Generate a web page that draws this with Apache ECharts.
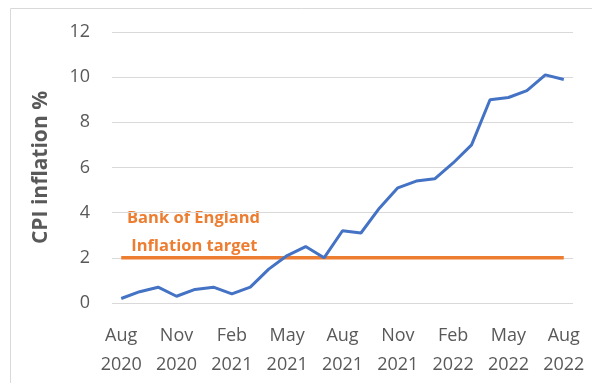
<!DOCTYPE html>
<html>
<head>
<meta charset="utf-8">
<script src="https://cdn.jsdelivr.net/npm/echarts@6/dist/echarts.min.js"></script>
<style>
  html, body { margin: 0; padding: 0; background: #fff; }
  #chart { width: 592px; height: 383px; }
</style>
</head>
<body>
<div id="chart"></div>
<script>
// monthly UK CPI, Aug 2020 - Aug 2022
const months = [
  "Aug\n2020", "Sep 2020", "Oct 2020", "Nov\n2020", "Dec 2020", "Jan 2021",
  "Feb\n2021", "Mar 2021", "Apr 2021", "May\n2021", "Jun 2021", "Jul 2021",
  "Aug\n2021", "Sep 2021", "Oct 2021", "Nov\n2021", "Dec 2021", "Jan 2022",
  "Feb\n2022", "Mar 2022", "Apr 2022", "May\n2022", "Jun 2022", "Jul 2022",
  "Aug\n2022"
];
const cpi = [
  0.2, 0.5, 0.7, 0.3, 0.6, 0.7,
  0.4, 0.7, 1.5, 2.1, 2.5, 2.0,
  3.2, 3.1, 4.2, 5.1, 5.4, 5.5,
  6.2, 7.0, 9.0, 9.1, 9.4, 10.1,
  9.9
];
const target = months.map(() => 2);
const yTicks = [0, 2, 4, 6, 8, 10, 12];

const chart = echarts.init(document.getElementById("chart"));
chart.setOption({
  animation: false,
  grid: { left: 112, right: 19, top: 32, bottom: 80 },
  graphic: [
    {
      type: "rect",
      shape: { x: 10.5, y: 8.5, width: 600, height: 400 },
      style: { fill: "none", stroke: "#d9d9d9", lineWidth: 1 }
    },
    {
      type: "text",
      left: 127,
      top: 204,
      style: {
        text: "Bank of England\n Inflation target",
        fill: "#ed7d31",
        font: "bold 16.5px 'Open Sans', sans-serif",
        lineHeight: 28,
        align: "center"
      }
    }
  ],
  xAxis: {
    type: "category",
    data: months,
    boundaryGap: true,
    axisLine: { show: false },
    axisTick: { show: false },
    axisLabel: {
      interval: 2,
      color: "#595959",
      fontSize: 18,
      lineHeight: 29,
      margin: 18,
      fontFamily: "Open Sans, sans-serif"
    }
  },
  yAxis: {
    type: "value",
    min: yTicks[0],
    max: yTicks[yTicks.length - 1],
    interval: 2,
    name: "CPI inflation %",
    nameLocation: "middle",
    nameGap: 60,
    nameTextStyle: {
      color: "#595959",
      fontSize: 21,
      fontWeight: "bold",
      fontFamily: "Open Sans, sans-serif"
    },
    axisLabel: {
      color: "#595959",
      fontSize: 18,
      margin: 22,
      fontFamily: "Open Sans, sans-serif"
    },
    splitLine: { lineStyle: { color: "#d9d9d9", width: 1 } }
  },
  series: [
    {
      name: "Target",
      type: "line",
      data: target,
      showSymbol: false,
      lineStyle: { color: "#ed7d31", width: 3.5 },
      z: 2
    },
    {
      name: "CPI",
      type: "line",
      data: cpi,
      showSymbol: false,
      lineStyle: { color: "#4472c4", width: 3 },
      z: 3
    }
  ]
});
</script>
</body>
</html>
